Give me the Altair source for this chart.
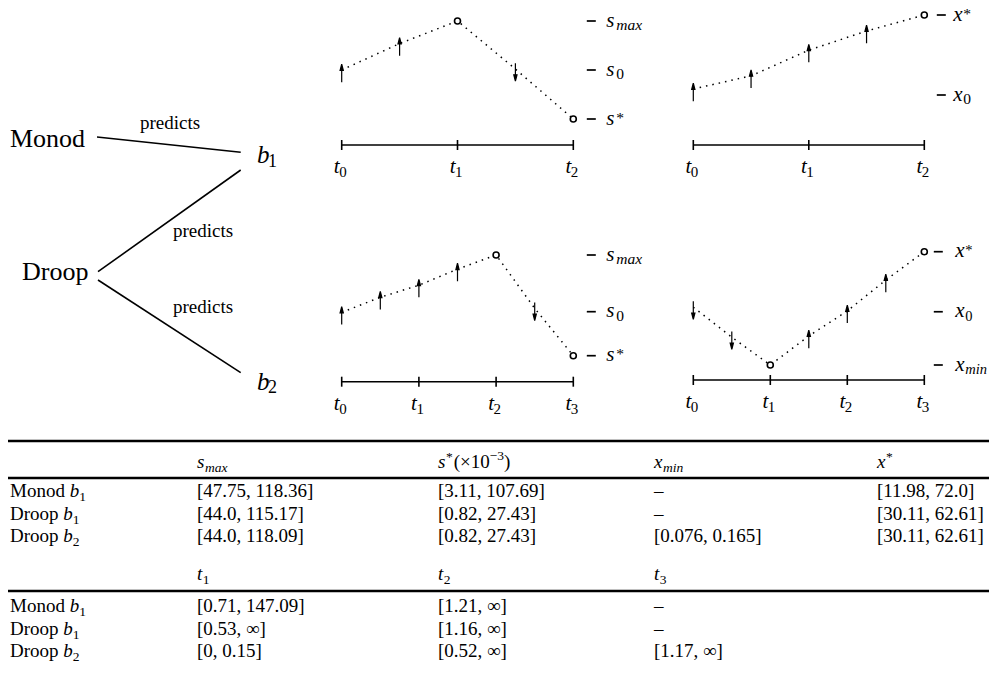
import altair as alt
import pandas as pd

# ---------------- values ----------------
# left diagram: models, what they predict
models = ["Monod", "Droop"]
edge_from = ["Monod", "Droop", "Droop"]
edge_to = ["b1", "b1", "b2"]
edge_label = ["predicts", "predicts", "predicts"]

# qualitative trajectories: time step, relative level (0 = lower mark, 1 = upper mark), marker
p1_t = [0, 0.5, 1, 1.5, 2]
p1_v = [0.50, 0.77, 1.00, 0.51, 0.00]
p1_k = ["up", "up", "circle", "down", "circle"]

p2_t = [0, 0.5, 1, 1.5, 2]
p2_v = [0.075, 0.24, 0.56, 0.80, 1.00]
p2_k = ["up", "up", "up", "up", "circle"]

p3_t = [0, 0.5, 1, 1.5, 2, 2.5, 3]
p3_v = [0.43, 0.58, 0.70, 0.86, 1.00, 0.47, 0.00]
p3_k = ["up", "up", "up", "up", "circle", "down", "circle"]

p4_t = [0, 0.5, 1, 1.5, 2, 2.5, 3]
p4_v = [0.51, 0.245, 0.00, 0.256, 0.477, 0.75, 1.00]
p4_k = ["down", "down", "circle", "up", "up", "up", "circle"]

# reference levels at the right of each panel
p1_lev = [1.0, 0.5, 0.0]
p1_lab = [("s", "max", "subi"), ("s", "0", "sub"), ("s", "*", "sup")]
p2_lev = [1.0, 0.0]
p2_lab = [("x", "*", "sup"), ("x", "0", "sub")]
p3_lev = [1.0, 0.437, 0.0]
p3_lab = [("s", "max", "subi"), ("s", "0", "sub"), ("s", "*", "sup")]
p4_lev = [1.0, 0.47, 0.0]
p4_lab = [("x", "*", "sup"), ("x", "0", "sub"), ("x", "min", "subi")]

# table
row_model = ["Monod", "Droop", "Droop"]
row_b = ["1", "1", "2"]
s_max_vals = ["[47.75, 118.36]", "[44.0, 115.17]", "[44.0, 118.09]"]
s_star_vals = ["[3.11, 107.69]", "[0.82, 27.43]", "[0.82, 27.43]"]
x_min_vals = ["–", "–", "[0.076, 0.165]"]
x_star_vals = ["[11.98, 72.0]", "[30.11, 62.61]", "[30.11, 62.61]"]
t1_vals = ["[0.71, 147.09]", "[0.53, ∞]", "[0, 0.15]"]
t2_vals = ["[1.21, ∞]", "[1.16, ∞]", "[0.52, ∞]"]
t3_vals = ["–", "–", "[1.17, ∞]"]

# ---------------- layout / style ----------------
FONT = "Liberation Serif"
CW, CH, M = 997, 681, 8

ROMAN_W = {"M": .889, "o": .5, "n": .5, "d": .5, "D": .722, "r": .333, "p": .5, " ": .25,
           "[": .333, "]": .333, ",": .25, ".": .25, "(": .333, ")": .333, "×": .564,
           "−": .564, "∞": .713, "–": .5, "*": .5}
ITAL_W = {"s": .389, "b": .5, "x": .444, "t": .278, "m": .722, "a": .5, "i": .278, "n": .5}


def tw(s, size, italic=False):
    tab = ITAL_W if italic else ROMAN_W
    return sum(tab.get(c, .5) for c in s) * size


def sx_canvas():
    return alt.Scale(domain=[0, CW], range=[-M, CW - M], nice=False, zero=False)


def sy_canvas():
    return alt.Scale(domain=[0, CH], range=[-M, CH - M], nice=False, zero=False)


def text_layer(df, xf, yf, xs, ys, size, italic=False, align="left", dx=0, dy=0):
    return alt.Chart(df).mark_text(
        align=align, baseline="alphabetic", font=FONT, fontSize=size,
        fontStyle="italic" if italic else "normal", dx=dx, dy=dy, color="black"
    ).encode(
        x=alt.X(f"{xf}:Q", scale=xs, axis=None),
        y=alt.Y(f"{yf}:Q", scale=ys, axis=None),
        text="text:N",
    )


layers = []

# ---------------- left diagram ----------------
NODE_POS = {"Monod": (10, 146.7), "Droop": (22, 280)}
B_POS = {"b1": (257, 163.3), "b2": (257, 390)}
EDGE_POS = [((97, 137), (240.7, 152.3)), ((98, 271.7), (240.7, 170)), ((98, 280), (240.7, 372.7))]
LABEL_POS = [(140, 129.3), (173, 237.3), (173, 313.3)]

edges = pd.DataFrame({
    "from": edge_from, "to": edge_to,
    "x": [e[0][0] for e in EDGE_POS], "y": [e[0][1] for e in EDGE_POS],
    "x2": [e[1][0] for e in EDGE_POS], "y2": [e[1][1] for e in EDGE_POS],
})
layers.append(alt.Chart(edges).mark_rule(color="black", strokeWidth=1.6).encode(
    x=alt.X("x:Q", scale=sx_canvas(), axis=None), y=alt.Y("y:Q", scale=sy_canvas(), axis=None),
    x2="x2:Q", y2="y2:Q"))

items = []
for m in models:
    items.append(dict(x=NODE_POS[m][0], y=NODE_POS[m][1], text=m, size=26, it=False))
for lab, (lx, ly) in zip(edge_label, LABEL_POS):
    items.append(dict(x=lx, y=ly, text=lab, size=19, it=False))
for b, (bx, by) in B_POS.items():
    items.append(dict(x=bx, y=by, text=b[0], size=25, it=True))
    items.append(dict(x=bx + 11, y=by + 3.4, text=b[1], size=18, it=False))

# ---------------- table ----------------
TS = 19.0
SS = 13.5
COL_X = [10, 197, 438, 654, 877]
HEAD_Y = 468
ROW_Y = [497, 519.5, 542]
THEAD_Y = 580
TROW_Y = [612, 634.5, 657]
RULES_Y = [441, 478, 591]

# header 1
cx = COL_X[1]
items.append(dict(x=cx, y=HEAD_Y, text="s", size=TS, it=True))
items.append(dict(x=cx + tw("s", TS, True) + .5, y=HEAD_Y + 3.5, text="max", size=SS, it=True))
cx = COL_X[2]
items.append(dict(x=cx, y=HEAD_Y, text="s", size=TS, it=True))
cx2 = cx + tw("s", TS, True) + .5
items.append(dict(x=cx2, y=HEAD_Y - 7, text="*", size=SS, it=False))
cx3 = cx2 + tw("*", SS) + 1
items.append(dict(x=cx3, y=HEAD_Y, text="(×10", size=TS, it=False))
cx4 = cx3 + tw("(×10", TS)
items.append(dict(x=cx4, y=HEAD_Y - 8, text="−3", size=SS, it=False))
cx5 = cx4 + tw("−3", SS)
items.append(dict(x=cx5, y=HEAD_Y, text=")", size=TS, it=False))
cx = COL_X[3]
items.append(dict(x=cx, y=HEAD_Y, text="x", size=TS, it=True))
items.append(dict(x=cx + tw("x", TS, True) + .5, y=HEAD_Y + 3.5, text="min", size=SS, it=True))
cx = COL_X[4]
items.append(dict(x=cx, y=HEAD_Y, text="x", size=TS, it=True))
items.append(dict(x=cx + tw("x", TS, True) + .5, y=HEAD_Y - 7, text="*", size=SS, it=False))

# header 2 (switching times)
for j, c in enumerate([1, 2, 3]):
    items.append(dict(x=COL_X[c], y=THEAD_Y, text="t", size=TS, it=True))
    items.append(dict(x=COL_X[c] + tw("t", TS, True) + .5, y=THEAD_Y + 4, text=str(j + 1), size=SS, it=False))


def row_label(i, y):
    name = row_model[i]
    items.append(dict(x=COL_X[0], y=y, text=name, size=TS, it=False))
    bx = COL_X[0] + tw(name + " ", TS)
    items.append(dict(x=bx, y=y, text="b", size=TS, it=True))
    items.append(dict(x=bx + tw("b", TS, True), y=y + 4, text=row_b[i], size=SS, it=False))


for i in range(3):
    row_label(i, ROW_Y[i])
    for c, vals in zip([1, 2, 3, 4], [s_max_vals, s_star_vals, x_min_vals, x_star_vals]):
        items.append(dict(x=COL_X[c], y=ROW_Y[i], text=vals[i], size=TS, it=False))
    row_label(i, TROW_Y[i])
    for c, vals in zip([1, 2, 3], [t1_vals, t2_vals, t3_vals]):
        items.append(dict(x=COL_X[c], y=TROW_Y[i], text=vals[i], size=TS, it=False))

rules = pd.DataFrame({"x": [0] * 3, "x2": [CW] * 3, "y": RULES_Y})
layers.append(alt.Chart(rules).mark_rule(color="black", strokeWidth=2.4).encode(
    x=alt.X("x:Q", scale=sx_canvas(), axis=None), x2="x2:Q",
    y=alt.Y("y:Q", scale=sy_canvas(), axis=None)))

tdf = pd.DataFrame(items)
for (size, it), g in tdf.groupby(["size", "it"]):
    layers.append(text_layer(g.reset_index(drop=True), "x", "y", sx_canvas(), sy_canvas(), float(size), bool(it)))

# ---------------- panels ----------------
UP = "M0,1.35L0,-0.2M0,-0.65L-0.18,0.05L0.18,0.05Z"
DOWN = "M0,-0.65L0,0.9M0,1.35L-0.18,0.65L0.18,0.65Z"

PANELS = [
    dict(t=p1_t, v=p1_v, k=p1_k, lev=p1_lev, lab=p1_lab, T=2, x0=341.7, x1=573.3, ybot=119, ytop=21,
         axis=145, dash=18, txt=33, sub=15.5),
    dict(t=p2_t, v=p2_v, k=p2_k, lev=p2_lev, lab=p2_lab, T=2, x0=693.3, x1=924.3, ybot=95, ytop=15,
         axis=145, dash=17, txt=29, sub=15.5),
    dict(t=p3_t, v=p3_v, k=p3_k, lev=p3_lev, lab=p3_lab, T=3, x0=341.7, x1=573.3, ybot=355.7, ytop=255,
         axis=381.7, dash=18, txt=33, sub=15.5),
    dict(t=p4_t, v=p4_v, k=p4_k, lev=p4_lev, lab=p4_lab, T=3, x0=693.3, x1=924.3, ybot=365, ytop=251.7,
         axis=380, dash=14, txt=31, sub=14.5),
]

for P in PANELS:
    def xs(P=P):
        return alt.Scale(domain=[0, P["T"]], range=[P["x0"] - M, P["x1"] - M], nice=False, zero=False)

    def ys(P=P):
        return alt.Scale(domain=[0, 1], range=[P["ybot"] - M, P["ytop"] - M], nice=False, zero=False)

    df = pd.DataFrame({"t": P["t"], "v": P["v"], "k": P["k"]})
    layers.append(alt.Chart(df).mark_line(color="black", strokeWidth=1.5, strokeDash=[1.5, 5.0]).encode(
        x=alt.X("t:Q", scale=xs(), axis=None), y=alt.Y("v:Q", scale=ys(), axis=None), order="t:Q"))
    layers.append(alt.Chart(df[df.k != "circle"]).mark_point(
        filled=True, fill="black", stroke="black", strokeWidth=1.2, size=324, opacity=1).encode(
        x=alt.X("t:Q", scale=xs(), axis=None), y=alt.Y("v:Q", scale=ys(), axis=None),
        shape=alt.Shape("k:N", scale=alt.Scale(domain=["up", "down"], range=[UP, DOWN]), legend=None)))
    layers.append(alt.Chart(df[df.k == "circle"]).mark_point(
        shape="circle", filled=True, fill="white", stroke="black", strokeWidth=1.6, size=36, opacity=1).encode(
        x=alt.X("t:Q", scale=xs(), axis=None), y=alt.Y("v:Q", scale=ys(), axis=None)))

    # time axis
    T = P["T"]
    tl = pd.DataFrame({"a": [0], "b": [T], "y": [P["axis"]]})
    layers.append(alt.Chart(tl).mark_rule(color="black", strokeWidth=1.6).encode(
        x=alt.X("a:Q", scale=xs(), axis=None), x2="b:Q", y=alt.Y("y:Q", scale=sy_canvas(), axis=None)))
    tk = pd.DataFrame({"t": list(range(T + 1)), "y1": P["axis"] - 5, "y2": P["axis"] + 5})
    layers.append(alt.Chart(tk).mark_rule(color="black", strokeWidth=1.6).encode(
        x=alt.X("t:Q", scale=xs(), axis=None), y=alt.Y("y1:Q", scale=sy_canvas(), axis=None), y2="y2:Q"))
    tl1 = pd.DataFrame({"t": list(range(T + 1)), "y": P["axis"] + 28, "text": ["t"] * (T + 1)})
    layers.append(text_layer(tl1, "t", "y", xs(), sy_canvas(), 21, True, "right", dx=-2))
    tl2 = pd.DataFrame({"t": list(range(T + 1)), "y": P["axis"] + 32, "text": [str(i) for i in range(T + 1)]})
    layers.append(text_layer(tl2, "t", "y", xs(), sy_canvas(), 15, False, "left", dx=-2.5))

    # level marks
    lv = pd.DataFrame({"t": [T] * len(P["lev"]), "v": P["lev"],
                       "main": [a for a, _, _ in P["lab"]], "scr": [b for _, b, _ in P["lab"]],
                       "kind": [c for _, _, c in P["lab"]]})
    d = P["dash"]
    dash_path = f"M{(d - 4.5) / 4.5:.3f},0L{(d + 4.5) / 4.5:.3f},0"
    layers.append(alt.Chart(lv).mark_point(shape=dash_path, filled=False, color="black", strokeWidth=1.7,
                                           size=81, opacity=1).encode(
        x=alt.X("t:Q", scale=xs(), axis=None), y=alt.Y("v:Q", scale=ys(), axis=None)))
    lm = lv.assign(text=lv["main"])
    layers.append(text_layer(lm, "t", "v", xs(), ys(), 21, True, "left", dx=P["txt"], dy=5.5))
    for kind, it, dy in [("subi", True, 9), ("sub", False, 9), ("sup", False, 3.5)]:
        g = lv[lv.kind == kind]
        if len(g):
            g = g.assign(text=g["scr"]).reset_index(drop=True)
            layers.append(text_layer(g, "t", "v", xs(), ys(), P["sub"], it, "left", dx=P["txt"] + 10, dy=dy))

chart = alt.layer(*layers).resolve_scale(x="independent", y="independent").properties(
    width=CW - 2 * M, height=CH - 2 * M, padding=0,
    autosize=alt.AutoSizeParams(type="none"), background="white",
).configure_view(stroke=None)

chart.save("out.html", embed_options={"renderer": "svg", "actions": False})
